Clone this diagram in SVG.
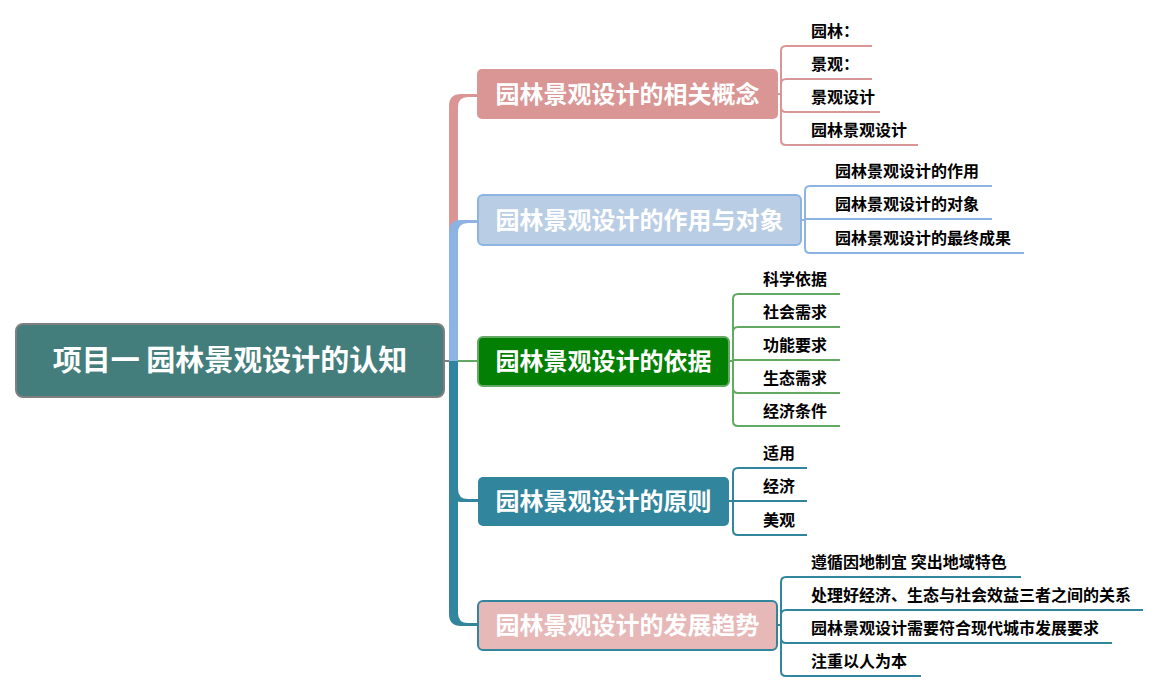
<svg xmlns="http://www.w3.org/2000/svg" width="1161" height="692" viewBox="0 0 1161 692">
<style>
.nt{font-family:"Noto Sans CJK SC","Liberation Sans",sans-serif;font-weight:bold;fill:#ffffff;text-anchor:middle}
.lt{font-family:"Noto Sans CJK SC","Liberation Sans",sans-serif;font-weight:bold;font-size:16px;fill:#000000}
.ln{fill:none;stroke-width:2}
.pk{stroke:#d99694}.bl{stroke:#8db3e2}.gr{stroke:#63a863}.tl{stroke:#31859c}
</style>
<rect width="1161" height="692" fill="#ffffff"/>
<g id="connectors">
  <line x1="444" y1="361" x2="450" y2="361" stroke="#808080" stroke-width="2"/>
  <path d="M449,361 V106 Q449,94 461,94 H478 V97 H468 Q458,97 458,107 V361 Z" fill="#d99694"/>
  <path d="M449,361 V232 Q449,220 461,220 H478 V223 H468 Q458,223 458,233 V361 Z" fill="#8db3e2"/>
  <path d="M449,361 V490 Q449,502 461,502 H478 V499 H468 Q458,499 458,489 V361 Z" fill="#31859c"/>
  <path d="M449,361 V614 Q449,626 461,626 H478 V623 H468 Q458,623 458,613 V361 Z" fill="#31859c"/>
  <line x1="458" y1="361" x2="478" y2="361" stroke="#63a863" stroke-width="2"/>
  <path class="ln pk" d="M777,94 H781"/>
  <path class="ln pk" d="M781,94 V51 Q781,46 786,46 H872"/>
  <path class="ln pk" d="M781,94 V84 Q781,79 786,79 H872"/>
  <path class="ln pk" d="M781,94 V107 Q781,112 786,112 H880"/>
  <path class="ln pk" d="M781,94 V140 Q781,145 786,145 H918"/>
  <path class="ln bl" d="M801,220 H805"/>
  <path class="ln bl" d="M805,220 V191 Q805,186 810,186 H992"/>
  <path class="ln bl" d="M805,220 V219 H992"/>
  <path class="ln bl" d="M805,220 V248 Q805,253 810,253 H1024"/>
  <path class="ln gr" d="M729,361 H733"/>
  <path class="ln gr" d="M733,361 V299 Q733,294 738,294 H840"/>
  <path class="ln gr" d="M733,361 V332 Q733,327 738,327 H840"/>
  <path class="ln gr" d="M733,361 V360 H840"/>
  <path class="ln gr" d="M733,361 V388 Q733,393 738,393 H840"/>
  <path class="ln gr" d="M733,361 V421 Q733,426 738,426 H840"/>
  <path class="ln tl" d="M729,501 H733"/>
  <path class="ln tl" d="M733,501 V473 Q733,468 738,468 H807"/>
  <path class="ln tl" d="M733,501 H807"/>
  <path class="ln tl" d="M733,501 V530 Q733,535 738,535 H807"/>
  <path class="ln tl" d="M777,625 H781"/>
  <path class="ln tl" d="M781,625 V582 Q781,577 786,577 H1021"/>
  <path class="ln tl" d="M781,625 V615 Q781,610 786,610 H1143"/>
  <path class="ln tl" d="M781,625 V638 Q781,643 786,643 H1112"/>
  <path class="ln tl" d="M781,625 V671 Q781,676 786,676 H921"/>
</g>
<g id="root">
  <rect x="16" y="324" width="428" height="73" rx="7" fill="#437e7d" stroke="#7f7f7f" stroke-width="2"/>
  <text class="nt" x="230" y="371" font-size="29">项目一 园林景观设计的认知</text>
</g>
<g id="node1">
  <rect x="477" y="69" width="301" height="50" rx="5" fill="#d99694"/>
  <text class="nt" x="627.5" y="103" font-size="24">园林景观设计的相关概念</text>
</g>
<g id="node2">
  <rect x="478" y="195" width="323" height="50" rx="5" fill="#b9cde5" stroke="#8db3e2" stroke-width="2"/>
  <text class="nt" x="639.5" y="229" font-size="24">园林景观设计的作用与对象</text>
</g>
<g id="node3">
  <rect x="478" y="337" width="251" height="49" rx="5" fill="#037f03" stroke="#63a863" stroke-width="2"/>
  <text class="nt" x="603.5" y="370" font-size="24">园林景观设计的依据</text>
</g>
<g id="node4">
  <rect x="478" y="477" width="251" height="49" rx="5" fill="#31859c"/>
  <text class="nt" x="603.5" y="510" font-size="24">园林景观设计的原则</text>
</g>
<g id="node5">
  <rect x="478" y="601" width="299" height="49" rx="5" fill="#e6b8b7" stroke="#31859c" stroke-width="2"/>
  <text class="nt" x="627.5" y="634" font-size="24">园林景观设计的发展趋势</text>
</g>
<g id="leaves1">
  <text class="lt" x="811" y="37">园林：</text>
  <text class="lt" x="811" y="70">景观：</text>
  <text class="lt" x="811" y="103">景观设计</text>
  <text class="lt" x="811" y="136">园林景观设计</text>
</g>
<g id="leaves2">
  <text class="lt" x="835" y="177">园林景观设计的作用</text>
  <text class="lt" x="835" y="210">园林景观设计的对象</text>
  <text class="lt" x="835" y="244">园林景观设计的最终成果</text>
</g>
<g id="leaves3">
  <text class="lt" x="763" y="285">科学依据</text>
  <text class="lt" x="763" y="318">社会需求</text>
  <text class="lt" x="763" y="351">功能要求</text>
  <text class="lt" x="763" y="384">生态需求</text>
  <text class="lt" x="763" y="417">经济条件</text>
</g>
<g id="leaves4">
  <text class="lt" x="763" y="459">适用</text>
  <text class="lt" x="763" y="492">经济</text>
  <text class="lt" x="763" y="526">美观</text>
</g>
<g id="leaves5">
  <text class="lt" x="811" y="568">遵循因地制宜 突出地域特色</text>
  <text class="lt" x="811" y="601">处理好经济、生态与社会效益三者之间的关系</text>
  <text class="lt" x="811" y="634">园林景观设计需要符合现代城市发展要求</text>
  <text class="lt" x="811" y="667">注重以人为本</text>
</g>
</svg>
